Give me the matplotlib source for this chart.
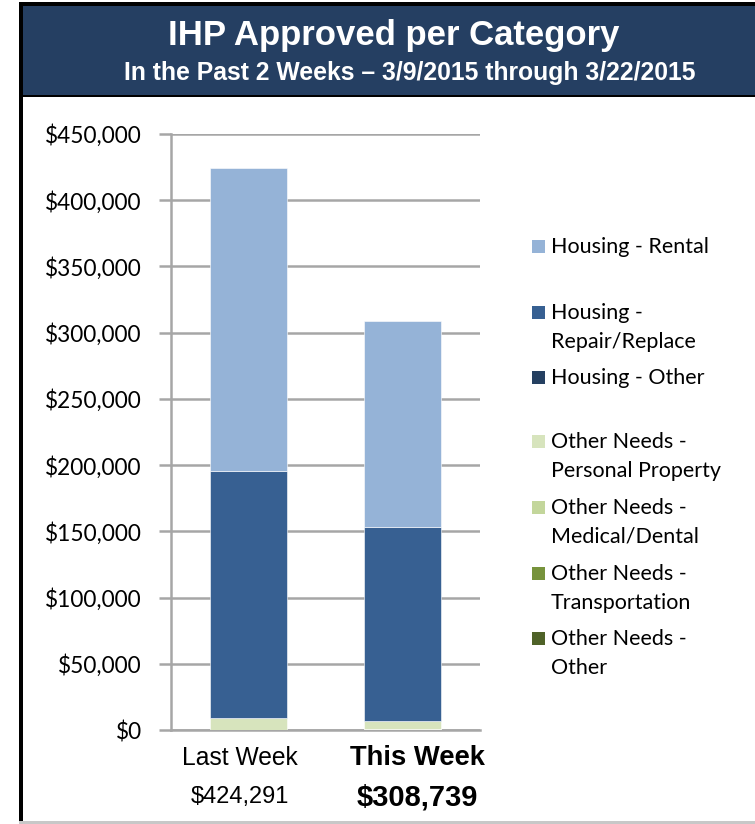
import matplotlib
matplotlib.use("Agg")
import matplotlib.pyplot as plt
from matplotlib.patches import Rectangle
from matplotlib.ticker import FuncFormatter, MultipleLocator
import matplotlib.transforms as mtransforms

categories = ["Last Week", "This Week"]
totals = ["$424,291", "$308,739"]
series_names = ["Other Needs -\nOther", "Other Needs -\nTransportation",
                "Other Needs -\nMedical/Dental", "Other Needs -\nPersonal Property",
                "Housing - Other", "Housing -\nRepair/Replace", "Housing - Rental"]
other_needs_other = [0, 900]
transportation = [0, 0]
medical_dental = [0, 0]
personal_property = [9000, 5900]
housing_other = [0, 0]
repair_replace = [186600, 146500]
rental = [228691, 155439]
series_values = [other_needs_other, transportation, medical_dental, personal_property,
                 housing_other, repair_replace, rental]
colors = ["#4f6228", "#77933c", "#c3d69b", "#d7e4bd", "#254061", "#376092", "#95b3d7"]

W, H = 755, 824
fig = plt.figure(figsize=(W / 100, H / 100), dpi=100)

# header band and frame
def px_rect(x0, y0, x1, y1, **kw):
    fig.patches.append(Rectangle((x0 / W, 1 - y1 / H), (x1 - x0) / W, (y1 - y0) / H,
                                 transform=fig.transFigure, figure=fig, **kw))

px_rect(19, 2, W, 97, facecolor="black", edgecolor="none")
px_rect(23, 6, W, 95, facecolor="#253f62", edgecolor="none")
px_rect(19, 2, 23, H, facecolor="black", edgecolor="none")
px_rect(19, 821, W, H, facecolor="#c8c8c8", edgecolor="none")

fig.text(394 / W, 1 - 36 / H, "IHP Approved per Category", ha="center", va="center",
         color="white", fontsize=25, fontweight="bold", family="Liberation Sans")
fig.text(410 / W, 1 - 73 / H, "In the Past 2 Weeks \u2013 3/9/2015 through 3/22/2015",
         ha="center", va="center", color="white", fontsize=17.8, fontweight="bold",
         family="Liberation Sans")

ax = fig.add_axes([171 / W, 1 - 730 / H, (480 - 171) / W, (730 - 134) / H])
x = list(range(len(categories)))
bottom = [0, 0]
for name, vals, c in zip(series_names, series_values, colors):
    ax.bar(x, vals, width=0.5, bottom=bottom, color=c, edgecolor="#ffffff",
           linewidth=0.4, label=name, zorder=3)
    bottom = [b + v for b, v in zip(bottom, vals)]

ax.set_xlim(-0.5, 1.5)
ax.set_ylim(0, 450000)
ax.yaxis.set_major_locator(MultipleLocator(50000))
ax.yaxis.set_major_formatter(FuncFormatter(lambda v, p: "${:,.0f}".format(v)))
ax.grid(axis="y", color="#a6a6a6", linewidth=1.8, zorder=0)
for s in ["top", "right"]:
    ax.spines[s].set_visible(False)
for s in ["left", "bottom"]:
    ax.spines[s].set_color("#a6a6a6")
    ax.spines[s].set_linewidth(1.8)
ax.tick_params(axis="y", length=9, width=1.8, color="#a6a6a6", pad=12,
               labelsize=16.3, labelfontfamily="Lato")
ax.tick_params(axis="x", length=0)
ax.set_xticks(x)
ax.set_xticklabels([])

# category captions sit a little off the bar centres, as in the original
trans = mtransforms.blended_transform_factory(ax.transData, fig.transFigure)
cat_sizes = [17.7, 19.7]
tot_sizes = [17, 21]
shift = [-0.052, 0.095]
for i, (cat, tot) in enumerate(zip(categories, totals)):
    weight = "bold" if i == 1 else "normal"
    ax.text(i + shift[i], 1 - 758 / H, cat, transform=trans, ha="center", va="center",
            fontsize=cat_sizes[i], fontweight=weight, family="Liberation Sans")
    ax.text(i + shift[i], 1 - 797 / H, tot, transform=trans, ha="center", va="center",
            fontsize=tot_sizes[i], fontweight=weight, family="Liberation Sans")

# legend, listed top-down as the stack
leg_y = [246, 312, 377, 441, 507, 573, 638]
for yy, name, c in zip(leg_y, series_names[::-1], colors[::-1]):
    px_rect(532, yy - 6, 545, yy + 7, facecolor=c, edgecolor="none")
    fig.text(551 / W, 1 - (yy - 9) / H, name, ha="left", va="top", fontsize=15.5,
             family="Lato", linespacing=1.55)

fig.savefig("out.png", dpi=100)
